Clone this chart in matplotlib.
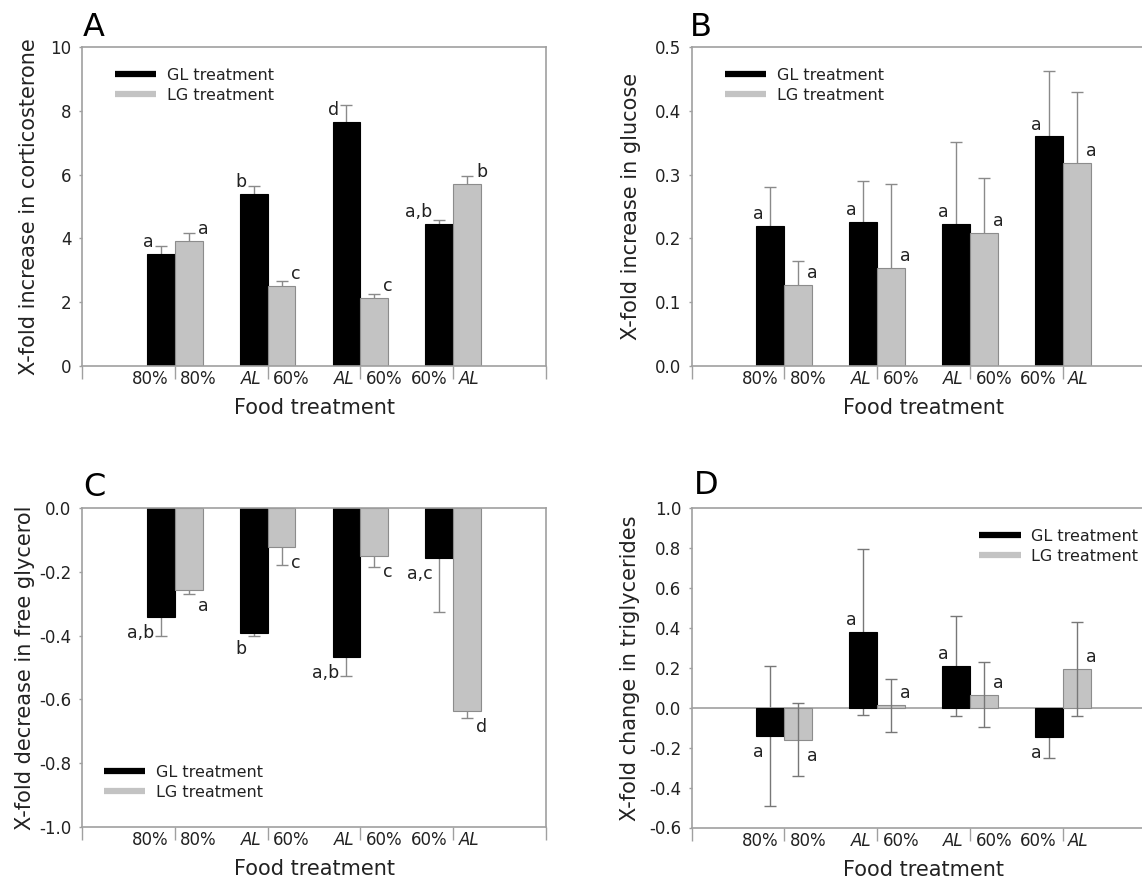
import numpy as np
import matplotlib
matplotlib.use("Agg")
import matplotlib.pyplot as plt
from matplotlib.lines import Line2D

plt.rcParams["font.family"] = "DejaVu Sans"
plt.rcParams["axes.unicode_minus"] = False

# ---- data ----
gl_ticks = ["80%", "AL", "AL", "60%"]
lg_ticks = ["80%", "60%", "60%", "AL"]

# A: corticosterone
cort_gl = [3.51, 5.39, 7.65, 4.44]
cort_gl_err = [0.26, 0.25, 0.55, 0.14]
cort_lg = [3.93, 2.50, 2.14, 5.72]
cort_lg_err = [0.25, 0.16, 0.10, 0.24]
cort_gl_let = ["a", "b", "d", "a,b"]
cort_lg_let = ["a", "c", "c", "b"]

# B: glucose
gluc_gl = [0.220, 0.225, 0.223, 0.360]
gluc_gl_err = [0.061, 0.065, 0.128, 0.102]
gluc_lg = [0.127, 0.153, 0.208, 0.318]
gluc_lg_err = [0.037, 0.133, 0.087, 0.112]
gluc_gl_let = ["a", "a", "a", "a"]
gluc_lg_let = ["a", "a", "a", "a"]

# C: free glycerol
glyc_gl = [-0.340, -0.392, -0.466, -0.155]
glyc_gl_err = [0.062, 0.009, 0.061, 0.171]
glyc_lg = [-0.257, -0.121, -0.150, -0.637]
glyc_lg_err = [0.012, 0.058, 0.034, 0.021]
glyc_gl_let = ["a,b", "b", "a,b", "a,c"]
glyc_lg_let = ["a", "c", "c", "d"]

# D: triglycerides
trig_gl = [-0.142, 0.381, 0.209, -0.147]
trig_gl_err = [0.350, 0.417, 0.250, 0.107]
trig_lg = [-0.160, 0.013, 0.065, 0.194]
trig_lg_err = [0.184, 0.133, 0.163, 0.235]
trig_gl_let = ["a", "a", "a", "a"]
trig_lg_let = ["a", "a", "a", "a"]

W, H = 1142, 882
SPINE = "#a0a0a0"
GREY = "#c3c3c3"
TXT = "#222222"

fig = plt.figure(figsize=(W / 100, H / 100), dpi=100)


def px_box(left, top, right, bottom):
    return [left / W, 1 - bottom / H, (right - left) / W, (bottom - top) / H]


def panel(box, gl, gl_err, lg, lg_err, gl_let, lg_let, ylim, yticks, fmt,
          ylabel, ylab_x, letter, letter_xy, legend_xy, both_err=False,
          right_spine=True):
    ax = fig.add_axes(px_box(*box))
    ax_w = box[2] - box[0]
    ax_h = box[3] - box[1]
    x = np.arange(1, 5)
    bw = 0.3
    ax.bar(x - bw / 2, gl, bw, color="black", edgecolor="black", lw=0.8, zorder=2)
    ax.bar(x + bw / 2, lg, bw, color=GREY, edgecolor="#8c8c8c", lw=0.8, zorder=2)
    # GL error bars sit behind the black bars; in D the LG ones are drawn on top
    ecol = "#777777" if both_err else "#8a8a8a"
    ax.errorbar(x - bw / 2, gl, yerr=gl_err, fmt="none", ecolor=ecol, elinewidth=1,
                capsize=4.5, capthick=1, zorder=1)
    ax.errorbar(x + bw / 2, lg, yerr=lg_err, fmt="none", ecolor=ecol, elinewidth=1,
                capsize=4.5, capthick=1, zorder=3 if both_err else 1)
    if ylim[0] < 0 < ylim[1]:
        ax.axhline(0, color=SPINE, lw=1.2, zorder=1.5)

    ax.set_xlim(0, 5)
    ax.set_ylim(*ylim)
    ax.set_xticks(range(6))
    ax.tick_params(axis="x", direction="out", length=9, width=1, color=SPINE,
                   labelbottom=False)
    ax.set_yticks(yticks)
    ax.set_yticklabels([fmt % t for t in yticks])
    ax.tick_params(axis="y", direction="out", length=2.5, width=1, color=SPINE,
                   pad=5, labelsize=12, labelcolor=TXT)
    for s in ax.spines.values():
        s.set_color(SPINE)
        s.set_linewidth(1.2)
    ax.spines["right"].set_visible(right_spine)

    # category labels under each bar
    for i in range(4):
        for lab, dx, ha in [(gl_ticks[i], -4.3, "right"), (lg_ticks[i], 4.0, "left")]:
            ax.annotate(lab, xy=(x[i], 0), xycoords=("data", "axes fraction"),
                        xytext=(dx, -3), textcoords="offset points", ha=ha,
                        va="top", fontsize=12, color=TXT,
                        style="italic" if lab == "AL" else "normal")

    # significance letters
    for xs, vals, lets, dx, ha in [(x - bw / 2, gl, gl_let, -5, "right"),
                                    (x + bw / 2, lg, lg_let, 6.5, "left")]:
        for xi, v, t in zip(xs, vals, lets):
            if v >= 0:
                ax.annotate(t, xy=(xi, v), xytext=(dx, 5), textcoords="offset points",
                            ha=ha, va="baseline", fontsize=12.5, color=TXT)
            else:
                ax.annotate(t, xy=(xi, v), xytext=(dx, -5), textcoords="offset points",
                            ha=ha, va="top", fontsize=12.5, color=TXT)

    ax.set_xlabel("Food treatment", fontsize=15, color=TXT)
    ax.xaxis.label.set_va("baseline")
    ax.xaxis.set_label_coords(0.5, -48 / ax_h)
    ax.set_ylabel(ylabel, fontsize=15, color=TXT)
    ax.yaxis.label.set_va("center")
    ax.yaxis.set_label_coords((ylab_x - box[0]) / ax_w, 0.5)

    fig.text(letter_xy[0] / W, 1 - letter_xy[1] / H, letter, fontsize=23,
             color="black", ha="left", va="baseline")

    handles = [Line2D([], [], color="black", lw=4.5, solid_capstyle="butt"),
               Line2D([], [], color=GREY, lw=4.5, solid_capstyle="butt")]
    ax.legend(handles, ["GL treatment", "LG treatment"], loc="upper left",
              bbox_to_anchor=(legend_xy[0] / W, 1 - legend_xy[1] / H),
              bbox_transform=fig.transFigure, frameon=False, borderpad=0,
              borderaxespad=0, handlelength=2.6, handletextpad=0.65,
              labelspacing=0.3, fontsize=11.5, labelcolor=TXT)
    return ax


panel((82, 47.3, 546, 365.7), cort_gl, cort_gl_err, cort_lg, cort_lg_err,
      cort_gl_let, cort_lg_let, (0, 10), [0, 2, 4, 6, 8, 10], "%d",
      "X-fold increase in corticosterone", 29, "A", (83, 36), (114.7, 68))

panel((691.5, 47.3, 1155.5, 365.7), gluc_gl, gluc_gl_err, gluc_lg, gluc_lg_err,
      gluc_gl_let, gluc_lg_let, (0, 0.5), [0, 0.1, 0.2, 0.3, 0.4, 0.5], "%.1f",
      "X-fold increase in glucose", 631, "B", (690, 36), (724.7, 68),
      right_spine=False)

panel((82, 508.3, 546, 826.7), glyc_gl, glyc_gl_err, glyc_lg, glyc_lg_err,
      glyc_gl_let, glyc_lg_let, (-1.0, 0.0), [0, -0.2, -0.4, -0.6, -0.8, -1.0],
      "%.1f", "X-fold decrease in free glycerol", 25, "C", (83, 496), (103.8, 765))

panel((691.5, 508.3, 1155.5, 827.5), trig_gl, trig_gl_err, trig_lg, trig_lg_err,
      trig_gl_let, trig_lg_let, (-0.6, 1.0),
      [-0.6, -0.4, -0.2, 0, 0.2, 0.4, 0.6, 0.8, 1.0], "%.1f",
      "X-fold change in triglycerides", 630, "D", (694, 494), (979, 529),
      both_err=True, right_spine=False)

fig.savefig("out.png", dpi=100)
